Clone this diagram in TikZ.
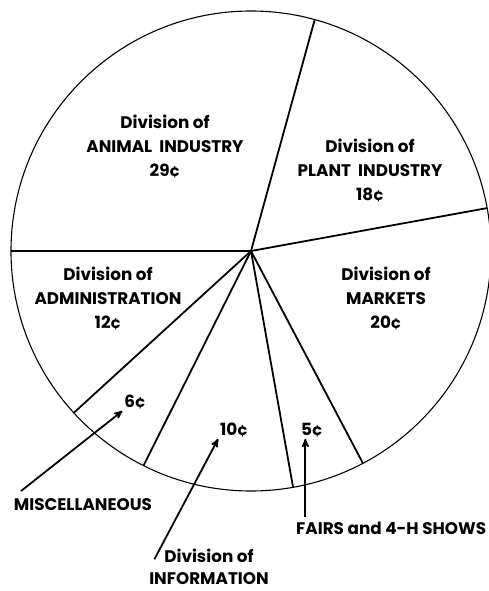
\documentclass[tikz,border=0pt]{standalone}
\usepackage{fontspec}
\setmainfont{Poppins}
\usetikzlibrary{arrows}

\begin{document}
\begin{tikzpicture}[x=1pt,y=1pt,>=stealth',line width=1.8pt,
    lbl/.style={align=center,font=\fontsize{16.8}{24}\selectfont\bfseries,inner sep=1pt}]
  \useasboundingbox (-251,-340) rectangle (238,251);
  \coordinate (c) at (0,0);
  \draw[line width=1.1pt] (c) circle (240);
  \foreach \a in {180,222.4,243.4,280.1,297.8,10.3,74.6}
    \draw (c) -- (\a:240);
  \node[lbl] (animal) at (-86,105) {Division of\\ANIMAL\ \ INDUSTRY\\29¢};
  \node[lbl] (plant) at (119,81) {Division of\\PLANT\ \ INDUSTRY\\18¢};
  \node[lbl] (admin) at (-143,-47) {Division of\\ADMINISTRATION\\12¢};
  \node[lbl] (markets) at (135,-47) {Division of\\MARKETS\\20¢};
  \node[lbl] (six) at (-116,-151) {6¢};
  \node[lbl] (ten) at (-17,-179) {10¢};
  \node[lbl] (five) at (61,-179) {5¢};
  \node[lbl,anchor=west] (misc) at (-239,-254) {MISCELLANEOUS};
  \node[lbl,anchor=east] (fairs) at (237,-277) {FAIRS and 4-H SHOWS};
  \node[lbl,font=\fontsize{16.8}{22}\selectfont\bfseries] (info) at (-42,-316) {Division of\\INFORMATION};
  \draw[->] ([xshift=9pt,yshift=6pt]misc.north west) -- (six.south west);
  \draw[->] ([xshift=7pt,yshift=-12pt]info.north west) -- (ten.south west);
  \draw[->] ([xshift=11pt,yshift=3pt]fairs.north west) -- ([xshift=11pt]fairs.north west |- five.south);
\end{tikzpicture}
\end{document}
